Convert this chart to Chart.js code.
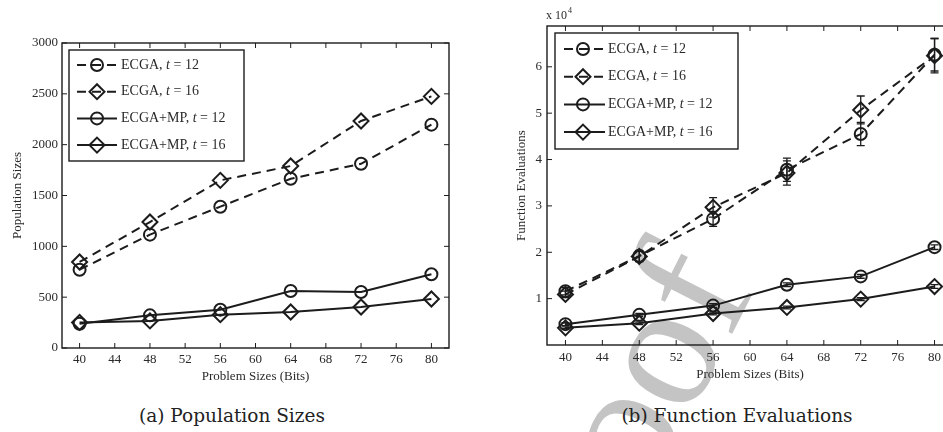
<!DOCTYPE html>
<html>
<head>
<meta charset="utf-8">
<title>ECGA vs ECGA+MP</title>
<script src="https://cdn.jsdelivr.net/npm/chart.js@4.4.0/dist/chart.umd.min.js"></script>
<style>
  html, body { margin: 0; padding: 0; background: #fff; width: 943px; height: 432px; overflow: hidden; position: relative; }
  #stamp { position: absolute; left: 0; top: 0; z-index: 0; }
  canvas { position: absolute; top: 0; z-index: 1; background: transparent; }
  #popChart { left: 0; }
  #evalChart { left: 470px; }
  .cap { position: absolute; top: 403px; z-index: 2; font: 18.5px "DejaVu Serif", serif; line-height: 26px;
         color: #222; white-space: nowrap; transform: translateX(-50%); }
</style>
</head>
<body>
<svg id="stamp" width="943" height="432">
  <text x="576" y="640" transform="rotate(-63 576 640)" font-family="Liberation Serif, serif" font-size="178" fill="#c4c4c4">Proof</text>
</svg>
<canvas id="popChart" width="470" height="390"></canvas>
<canvas id="evalChart" width="500" height="390"></canvas>
<div class="cap" style="left:232px">(a) Population Sizes</div>
<div class="cap" style="left:737px">(b) Function Evaluations</div>

<script>
// Problem sizes (bits) tested
const problemSizes = [40, 48, 56, 64, 72, 80];
const xTickValues = [40, 44, 48, 52, 56, 60, 64, 68, 72, 76, 80];
const popTickValues = [0, 500, 1000, 1500, 2000, 2500, 3000];
const evalTickValues = [10000, 20000, 30000, 40000, 50000, 60000];

// Population sizes
const popEcga12 = [770, 1115, 1390, 1665, 1812, 2197];
const popEcga16 = [846, 1239, 1649, 1790, 2233, 2475];
const popMp12   = [239, 321, 377, 561, 551, 725];
const popMp16   = [252, 266, 328, 354, 403, 482];

// Function evaluations and their error bar half-widths
const evalEcga12 = [11600, 19200, 27200, 37800, 45500, 62600];
const evalEcga16 = [10900, 19100, 29700, 37100, 50700, 62400];
const evalMp12   = [4500, 6500, 8500, 13000, 14800, 21100];
const evalMp16   = [3700, 4700, 6800, 8100, 9900, 12600];
const errEcga12  = [800, 1200, 1600, 2500, 2500, 3500];
const errEcga16  = [700, 1100, 2100, 2600, 3000, 3700];
const errMp12    = [300, 300, 400, 400, 400, 500];
const errMp16    = [200, 300, 300, 300, 300, 400];

const INK = '#1c1c1c';
const TEXT = '#2a2a2a';
const SERIF = '"Liberation Serif", "Times New Roman", serif';
const DASH = [9, 6];

function points(values) {
  return problemSizes.map((x, i) => ({ x: x, y: values[i] }));
}

function series(algo, t, values, dashed, marker, errors) {
  return {
    label: algo + ', t = ' + t,
    algo: algo,
    tSize: t,
    data: points(values),
    errors: errors || null,
    borderColor: INK,
    borderWidth: 2,
    borderDash: dashed ? DASH : [],
    fill: false,
    tension: 0,
    pointStyle: marker,
    pointRadius: marker === 'circle' ? 6 : 7.5,
    pointHoverRadius: marker === 'circle' ? 6 : 7.5,
    pointBorderWidth: 2,
    pointBorderColor: INK,
    pointBackgroundColor: 'rgba(0,0,0,0)'
  };
}

function drawMarker(ctx, style, x, y) {
  ctx.beginPath();
  if (style === 'circle') {
    ctx.arc(x, y, 6, 0, Math.PI * 2);
  } else {
    ctx.moveTo(x, y - 7.5); ctx.lineTo(x + 7.5, y); ctx.lineTo(x, y + 7.5); ctx.lineTo(x - 7.5, y); ctx.closePath();
  }
  ctx.stroke();
}

// Box frame, inward ticks on all sides, error bars and the line+marker legend
const boxedAxes = {
  id: 'boxedAxes',
  beforeDatasetsDraw(chart) {
    const { ctx, scales: { x, y } } = chart;
    ctx.save();
    ctx.strokeStyle = INK;
    ctx.lineWidth = 1.3;
    ctx.setLineDash([]);
    chart.data.datasets.forEach(ds => {
      if (!ds.errors) return;
      ds.data.forEach((p, j) => {
        const e = ds.errors[j];
        const px = x.getPixelForValue(p.x);
        const top = y.getPixelForValue(p.y + e);
        const bot = y.getPixelForValue(p.y - e);
        ctx.beginPath();
        ctx.moveTo(px, top); ctx.lineTo(px, bot);
        ctx.moveTo(px - 4, top); ctx.lineTo(px + 4, top);
        ctx.moveTo(px - 4, bot); ctx.lineTo(px + 4, bot);
        ctx.stroke();
      });
    });
    ctx.restore();
  },
  afterDraw(chart, args, opts) {
    const { ctx, chartArea: a, scales: { x, y } } = chart;
    ctx.save();
    ctx.strokeStyle = INK;
    ctx.setLineDash([]);
    ctx.lineWidth = 1.4;
    ctx.strokeRect(a.left, a.top, a.right - a.left, a.bottom - a.top);
    const len = 5;
    ctx.lineWidth = 1;
    ctx.beginPath();
    x.ticks.forEach(t => {
      const px = x.getPixelForValue(t.value);
      ctx.moveTo(px, a.bottom); ctx.lineTo(px, a.bottom - len);
      ctx.moveTo(px, a.top); ctx.lineTo(px, a.top + len);
    });
    y.ticks.forEach(t => {
      const py = y.getPixelForValue(t.value);
      ctx.moveTo(a.left, py); ctx.lineTo(a.left + len, py);
      ctx.moveTo(a.right, py); ctx.lineTo(a.right - len, py);
    });
    ctx.stroke();

    if (opts.exponent) {
      ctx.fillStyle = TEXT;
      ctx.textBaseline = 'alphabetic';
      ctx.textAlign = 'left';
      ctx.font = '12px ' + SERIF;
      const bx = a.left - 1, by = a.top - 7;
      ctx.fillText('x 10', bx, by);
      const w = ctx.measureText('x 10').width;
      ctx.font = '8px ' + SERIF;
      ctx.fillText('4', bx + w + 1, by - 6);
    }

    const lg = opts.legend;
    if (lg) {
      ctx.fillStyle = '#fff';
      ctx.fillRect(lg.x, lg.y, lg.w, lg.h);
      ctx.lineWidth = 1.4;
      ctx.strokeStyle = INK;
      ctx.strokeRect(lg.x, lg.y, lg.w, lg.h);
      chart.data.datasets.forEach((ds, i) => {
        const cy = lg.y + lg.first + i * lg.gap;
        ctx.strokeStyle = INK;
        ctx.lineWidth = 2;
        ctx.setLineDash(ds.borderDash);
        ctx.beginPath();
        ctx.moveTo(lg.x + lg.lineFrom, cy);
        ctx.lineTo(lg.x + lg.lineTo, cy);
        ctx.stroke();
        ctx.setLineDash([]);
        drawMarker(ctx, ds.pointStyle, lg.x + lg.mark, cy);

        ctx.fillStyle = TEXT;
        ctx.textBaseline = 'middle';
        ctx.textAlign = 'left';
        let tx = lg.x + lg.text;
        ctx.font = '14px ' + SERIF;
        const head = ds.algo + ', ';
        ctx.fillText(head, tx, cy);
        tx += ctx.measureText(head).width;
        ctx.font = 'italic 14px ' + SERIF;
        ctx.fillText('t', tx, cy);
        tx += ctx.measureText('t').width;
        ctx.font = '14px ' + SERIF;
        ctx.fillText(' = ' + ds.tSize, tx, cy);
      });
    }
    ctx.restore();
  }
};

function makeOptions(cfg) {
  return {
    responsive: false,
    animation: false,
    events: [],
    layout: { padding: cfg.padding },
    plugins: {
      legend: { display: false },
      tooltip: { enabled: false },
      boxedAxes: { legend: cfg.legend, exponent: cfg.exponent }
    },
    scales: {
      x: {
        type: 'linear',
        min: 38, max: 82,
        afterBuildTicks: s => { s.ticks = xTickValues.map(v => ({ value: v })); },
        afterFit: s => { s.height = cfg.xHeight; },
        grid: { display: false, drawTicks: false },
        border: { display: false },
        ticks: { color: TEXT, font: { family: SERIF, size: 13 }, padding: cfg.xPad, maxRotation: 0, autoSkip: false },
        title: { display: true, text: 'Problem Sizes (Bits)', color: TEXT,
                 font: { family: SERIF, size: 13 }, padding: { top: 0, bottom: cfg.xTitlePad } }
      },
      y: {
        type: 'linear',
        min: cfg.yMin, max: cfg.yMax,
        afterBuildTicks: s => { s.ticks = cfg.yTicks.map(v => ({ value: v })); },
        afterFit: s => { s.width = cfg.yWidth; },
        grid: { display: false, drawTicks: false },
        border: { display: false },
        ticks: { color: TEXT, font: { family: SERIF, size: 13 }, padding: cfg.yPad, autoSkip: false,
                 callback: cfg.yFormat },
        title: { display: true, text: cfg.yTitle, color: TEXT,
                 font: { family: SERIF, size: 13 }, padding: { top: cfg.yTitlePad, bottom: 0 } }
      }
    }
  };
}

new Chart(document.getElementById('popChart'), {
  type: 'line',
  data: {
    datasets: [
      series('ECGA', 12, popEcga12, true, 'circle'),
      series('ECGA', 16, popEcga16, true, 'rectRot'),
      series('ECGA+MP', 12, popMp12, false, 'circle'),
      series('ECGA+MP', 16, popMp16, false, 'rectRot')
    ]
  },
  options: makeOptions({
    padding: { top: 43, right: 21, left: 0, bottom: 0 },
    xHeight: 42, yWidth: 62,
    xPad: 4, yPad: 4, xTitlePad: 6, yTitlePad: 10,
    yMin: 0, yMax: 3000, yTicks: popTickValues,
    yFormat: v => String(v),
    yTitle: 'Population Sizes',
    legend: { x: 69, y: 50, w: 175, h: 111, first: 15, gap: 26.7, lineFrom: 8, lineTo: 48, mark: 28, text: 52 },
    exponent: false
  }),
  plugins: [boxedAxes]
});

new Chart(document.getElementById('evalChart'), {
  type: 'line',
  data: {
    datasets: [
      series('ECGA', 12, evalEcga12, true, 'circle', errEcga12),
      series('ECGA', 16, evalEcga16, true, 'rectRot', errEcga16),
      series('ECGA+MP', 12, evalMp12, false, 'circle', errMp12),
      series('ECGA+MP', 16, evalMp16, false, 'rectRot', errMp16)
    ]
  },
  options: makeOptions({
    padding: { top: 26, right: 17, left: 0, bottom: 0 },
    xHeight: 45, yWidth: 77,
    xPad: 5, yPad: 5, xTitlePad: 8, yTitlePad: 44,
    yMin: 0, yMax: 68800, yTicks: evalTickValues,
    yFormat: v => String(v / 10000),
    yTitle: 'Function Evaluations',
    legend: { x: 85, y: 33, w: 183, h: 116, first: 16, gap: 27.7, lineFrom: 9, lineTo: 50, mark: 28, text: 53 },
    exponent: true
  }),
  plugins: [boxedAxes]
});
</script>
</body>
</html>
